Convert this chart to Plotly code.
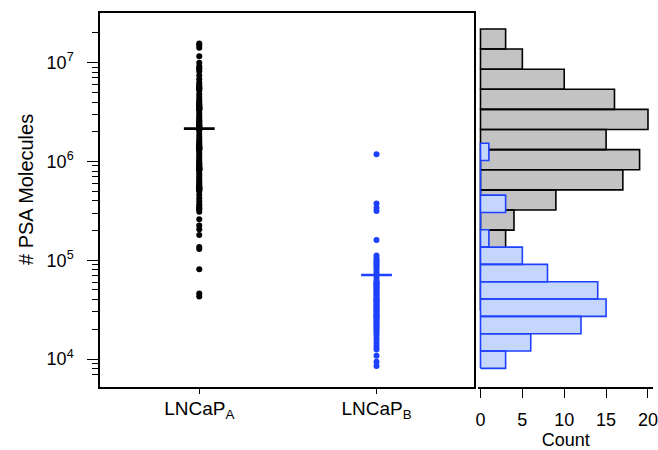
import numpy as np
import plotly.graph_objects as go

# ---- data -------------------------------------------------------------
groups = ["LNCaP<sub>A</sub>", "LNCaP<sub>B</sub>"]

# PSA molecules per cell, LNCaP_A
psa_a = [
    1.56e7, 1.50e7, 1.42e7,
    1.16e7, 1.00e7, 9.2e6, 8.8e6, 8.65e6,
    8.2e6, 7.4e6, 6.8e6, 6.3e6, 6.0e6, 5.8e6, 5.65e6, 5.55e6, 5.45e6, 5.4e6,
    5.2e6, 4.8e6, 4.5e6, 4.25e6, 4.05e6, 3.9e6, 3.8e6, 3.72e6, 3.65e6, 3.6e6,
    3.55e6, 3.5e6, 3.46e6, 3.43e6, 3.4e6, 3.38e6,
    3.3e6, 3.1e6, 2.95e6, 2.82e6, 2.72e6, 2.62e6, 2.54e6, 2.47e6, 2.41e6, 2.36e6,
    2.31e6, 2.27e6, 2.24e6, 2.21e6, 2.19e6, 2.17e6, 2.15e6, 2.13e6, 2.12e6, 2.11e6,
    2.05e6, 1.9e6, 1.78e6, 1.68e6, 1.6e6, 1.54e6, 1.49e6, 1.45e6, 1.42e6, 1.4e6,
    1.38e6, 1.36e6, 1.35e6, 1.335e6, 1.325e6,
    1.29e6, 1.22e6, 1.16e6, 1.11e6, 1.06e6, 1.02e6, 9.9e5, 9.6e5, 9.35e5, 9.1e5,
    8.9e5, 8.75e5, 8.6e5, 8.5e5, 8.42e5, 8.36e5, 8.31e5, 8.28e5, 8.26e5,
    8.1e5, 7.6e5, 7.2e5, 6.85e5, 6.55e5, 6.3e5, 6.05e5, 5.85e5, 5.7e5, 5.58e5,
    5.48e5, 5.4e5, 5.33e5, 5.27e5, 5.22e5, 5.19e5, 5.17e5,
    5.0e5, 4.6e5, 4.25e5, 3.95e5, 3.7e5, 3.55e5, 3.42e5, 3.33e5, 3.26e5,
    3.1e5, 2.6e5, 2.25e5, 2.06e5,
    1.8e5, 1.36e5, 1.30e5,
    8.1e4,
    4.6e4, 4.3e4,
]

# PSA molecules per cell, LNCaP_B
psa_b = [
    8.5e3, 9.4e3, 1.08e4,
    1.25e4, 1.33e4, 1.42e4, 1.52e4, 1.62e4, 1.74e4,
    1.84e4, 1.92e4, 2.0e4, 2.08e4, 2.16e4, 2.24e4, 2.32e4, 2.4e4, 2.48e4, 2.56e4,
    2.63e4, 2.69e4,
    2.75e4, 2.83e4, 2.92e4, 3.0e4, 3.08e4, 3.16e4, 3.25e4, 3.34e4, 3.43e4, 3.52e4,
    3.62e4, 3.72e4, 3.82e4, 3.92e4, 4.02e4,
    4.1e4, 4.25e4, 4.4e4, 4.55e4, 4.7e4, 4.85e4, 5.0e4, 5.15e4, 5.3e4, 5.45e4,
    5.6e4, 5.75e4, 5.9e4, 6.0e4,
    6.2e4, 6.6e4, 7.0e4, 7.4e4, 7.8e4, 8.2e4, 8.6e4, 9.0e4,
    9.2e4, 9.6e4, 1.0e5, 1.05e5, 1.12e5,
    1.6e5,
    3.15e5, 3.4e5, 3.75e5,
    1.18e6,
]

# group mean markers
group_means = [2.15e6, 7.1e4]

# histogram bins, in log10(molecules)
bins_a_log = {"start": 4.491, "size": 0.2036, "count": 14}
bins_b_log = {"start": 3.906, "size": 0.1753, "count": 13}

y_ticks = [1e4, 1e5, 1e6, 1e7]
y_ticktext = ["10<sup>4</sup>", "10<sup>5</sup>", "10<sup>6</sup>", "10<sup>7</sup>"]
count_ticks = [0, 5, 10, 15, 20]

# ---- styling ----------------------------------------------------------
BLACK = "#000000"
BLUE = "#1e40ff"
GRAY_FILL = "#c3c3c3"
BLUE_FILL = "#c4d6fb"
FONT = "Arial, Liberation Sans, sans-serif"

W, H = 658, 450


def fx(px):
    return px / W


def fy(px):
    return 1 - px / H


def hist_outline(values, bins):
    """Closed rectangles (one per bin) for a horizontal histogram."""
    edges = bins["start"] + bins["size"] * np.arange(bins["count"] + 1)
    counts, _ = np.histogram(np.log10(values), bins=edges)
    xs, ys = [], []
    for lo, hi, c in zip(edges[:-1], edges[1:], counts):
        xs += [0, c, c, 0, 0, None]
        ys += [10 ** lo, 10 ** lo, 10 ** hi, 10 ** hi, 10 ** lo, None]
    return xs, ys


fig = go.Figure()

# individual cells
fig.add_trace(go.Scatter(
    x=[0] * len(psa_a), y=psa_a, mode="markers",
    marker=dict(size=6, color=BLACK), xaxis="x", yaxis="y",
))
fig.add_trace(go.Scatter(
    x=[1] * len(psa_b), y=psa_b, mode="markers",
    marker=dict(size=6, color=BLUE), xaxis="x", yaxis="y",
))
# mean bars
fig.add_trace(go.Scatter(
    x=[0, 1], y=group_means, mode="markers",
    marker=dict(symbol="line-ew", size=22,
                line=dict(width=2.6, color=[BLACK, BLUE])),
    xaxis="x", yaxis="y",
))

# side histograms
hx, hy = hist_outline(psa_a, bins_a_log)
fig.add_trace(go.Scatter(
    x=hx, y=hy, mode="lines", fill="toself", fillcolor=GRAY_FILL,
    line=dict(color=BLACK, width=1.6), xaxis="x2", yaxis="y2",
))
hx, hy = hist_outline(psa_b, bins_b_log)
fig.add_trace(go.Scatter(
    x=hx, y=hy, mode="lines", fill="toself", fillcolor=BLUE_FILL,
    line=dict(color=BLUE, width=1.6), xaxis="x2", yaxis="y2",
))

y_dom = [fy(386.7), fy(12.7)]
minor_vals = [m * 10 ** k for k in range(3, 8) for m in range(2, 10)
              if 6.5e3 < m * 10 ** k < 2.5e7]

fig.update_layout(
    width=W, height=H,
    margin=dict(l=0, r=0, t=0, b=0),
    paper_bgcolor="white", plot_bgcolor="white",
    showlegend=False,
    font=dict(family=FONT, color=BLACK, size=18),
    xaxis=dict(
        domain=[fx(100), fx(474)], range=[-0.56, 1.55],
        tickmode="array", tickvals=[0, 1], ticktext=groups,
        ticks="outside", ticklen=6, tickwidth=1.3, tickcolor=BLACK,
        showline=True, mirror=True, linecolor=BLACK, linewidth=1.5,
        showgrid=False, zeroline=False, tickfont=dict(size=19),
        ticklabelstandoff=-2, automargin=False, anchor="y",
    ),
    yaxis=dict(
        domain=y_dom, type="log", range=[3.72, 7.506],
        tickmode="array", tickvals=y_ticks, ticktext=y_ticktext,
        ticks="outside", ticklen=11, tickwidth=1.3, tickcolor=BLACK,
        minor=dict(tickmode="array", tickvals=minor_vals, ticks="outside",
                   ticklen=6, tickwidth=1.2, tickcolor=BLACK, showgrid=False),
        showline=True, mirror=True, linecolor=BLACK, linewidth=1.5,
        showgrid=False, zeroline=False, tickfont=dict(size=18),
        ticklabelstandoff=10, automargin=False, anchor="x",
    ),
    xaxis2=dict(
        domain=[fx(478.4), fx(653)], range=[-0.25, 20.6],
        tickmode="array", tickvals=count_ticks,
        ticks="outside", ticklen=10, tickwidth=1.3, tickcolor=BLACK,
        showline=True, linecolor=BLACK, linewidth=1.5,
        showgrid=False, zeroline=False, tickfont=dict(size=18),
        ticklabelstandoff=6, automargin=False, anchor="y2",
        title=dict(text="Count", font=dict(size=18), standoff=4),
    ),
    yaxis2=dict(
        domain=y_dom, type="log", matches="y", anchor="x2",
        showline=False, ticks="", showticklabels=False,
        showgrid=False, zeroline=False,
    ),
    annotations=[dict(
        text="# PSA Molecules", textangle=-90, showarrow=False,
        xref="paper", yref="paper", x=fx(26), y=fy(190),
        xanchor="center", yanchor="middle", font=dict(size=20),
    )],
)

fig.write_html("out.html")
